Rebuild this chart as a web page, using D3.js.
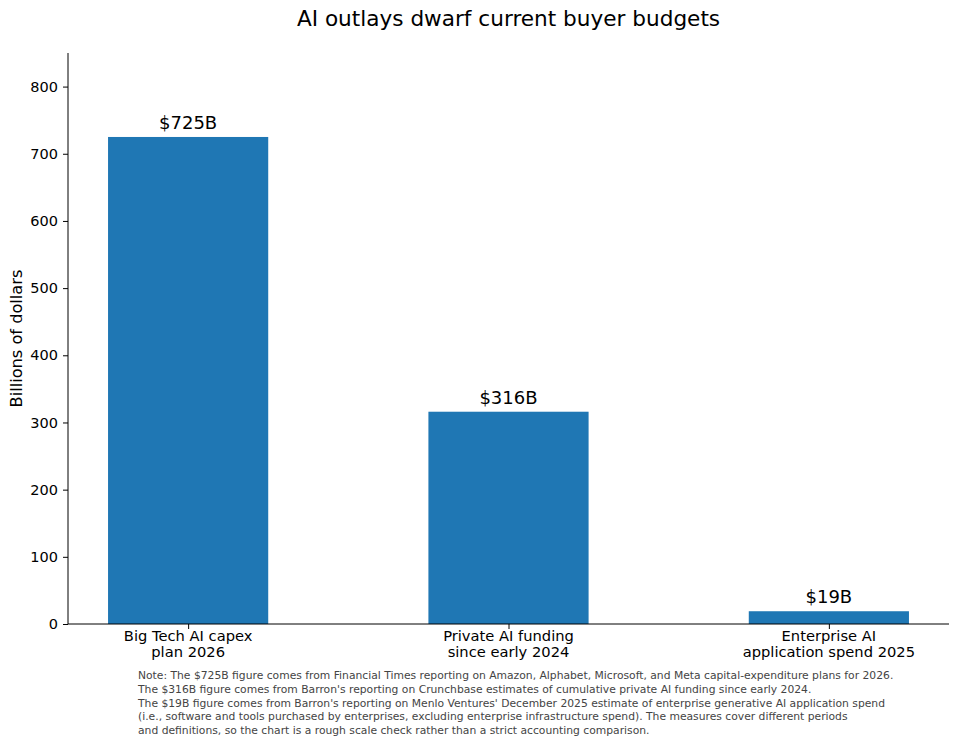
<!DOCTYPE html>
<html>
<head>
<meta charset="utf-8">
<script src="https://cdn.jsdelivr.net/npm/d3@7"></script>
<style>
  body { margin: 0; background: #fff; }
  text { font-family: "DejaVu Sans", sans-serif; }
</style>
</head>
<body>
<div id="chart"></div>
<script>
const categories = [
  ["Big Tech AI capex", "plan 2026"],
  ["Private AI funding", "since early 2024"],
  ["Enterprise AI", "application spend 2025"]
];
const values = [725, 316, 19];
const valueLabels = ["$725B", "$316B", "$19B"];
const yTicks = [0, 100, 200, 300, 400, 500, 600, 700, 800];
const noteLines = [
  "Note: The $725B figure comes from Financial Times reporting on Amazon, Alphabet, Microsoft, and Meta capital-expenditure plans for 2026.",
  "The $316B figure comes from Barron's reporting on Crunchbase estimates of cumulative private AI funding since early 2024.",
  "The $19B figure comes from Barron's reporting on Menlo Ventures' December 2025 estimate of enterprise generative AI application spend",
  "(i.e., software and tools purchased by enterprises, excluding enterprise infrastructure spend). The measures cover different periods",
  "and definitions, so the chart is a rough scale check rather than a strict accounting comparison."
];

const width = 959, height = 745;
const mLeft = 68, mRight = 949, mTop = 53, mBottom = 624;
const barWidth = 0.5;

const svg = d3.select("#chart")
  .append("svg")
  .attr("width", width)
  .attr("height", height);

const x = d3.scaleLinear().domain([-0.375, 2.375]).range([mLeft, mRight]);
const y = d3.scaleLinear().domain([0, 850]).range([mBottom, mTop]);

// bars
svg.append("g")
  .selectAll("rect")
  .data(values)
  .join("rect")
  .attr("x", (d, i) => x(i - barWidth / 2))
  .attr("width", x(barWidth) - x(0))
  .attr("y", d => y(d))
  .attr("height", d => y(0) - y(d))
  .attr("fill", "#1f77b4");

// value labels above bars
svg.append("g")
  .attr("font-size", 18)
  .attr("text-anchor", "middle")
  .selectAll("text")
  .data(values)
  .join("text")
  .attr("x", (d, i) => x(i))
  .attr("y", d => y(d) - 8)
  .text((d, i) => valueLabels[i]);

// y axis
const yAxis = svg.append("g")
  .attr("transform", `translate(${mLeft},0)`)
  .call(d3.axisLeft(y).tickValues(yTicks).tickSize(5).tickPadding(5));
yAxis.select(".domain").attr("d", `M0,${mTop}V${mBottom}`);
yAxis.selectAll("text").attr("font-size", 14.5).attr("font-family", "DejaVu Sans").attr("fill", "#000");

// x axis: spine + ticks + two-line labels
const xAxis = svg.append("g")
  .attr("transform", `translate(0,${mBottom})`)
  .call(d3.axisBottom(x).tickValues([0, 1, 2]).tickSize(5).tickFormat(""));
xAxis.select(".domain").attr("d", `M${mLeft},0H${mRight}`);

svg.append("g")
  .attr("font-size", 14.7)
  .attr("text-anchor", "middle")
  .selectAll("text")
  .data(categories)
  .join("text")
  .attr("x", (d, i) => x(i))
  .attr("y", mBottom + 17)
  .selectAll("tspan")
  .data(d => d)
  .join("tspan")
  .attr("x", function () { return this.parentNode.getAttribute("x"); })
  .attr("dy", (d, i) => i ? "1.12em" : 0)
  .text(d => d);

// y label
svg.append("text")
  .attr("transform", `translate(22,${(mTop + mBottom) / 2}) rotate(-90)`)
  .attr("text-anchor", "middle")
  .attr("font-size", 16.2)
  .text("Billions of dollars");

// title
svg.append("text")
  .attr("x", (mLeft + mRight) / 2)
  .attr("y", 26)
  .attr("text-anchor", "middle")
  .attr("font-size", 21.6)
  .text("AI outlays dwarf current buyer budgets");

// note
svg.append("g")
  .attr("font-size", 10.75)
  .attr("fill", "#444")
  .selectAll("text")
  .data(noteLines)
  .join("text")
  .attr("x", 138)
  .attr("y", (d, i) => 679 + i * 13.8)
  .text(d => d);
</script>
</body>
</html>
